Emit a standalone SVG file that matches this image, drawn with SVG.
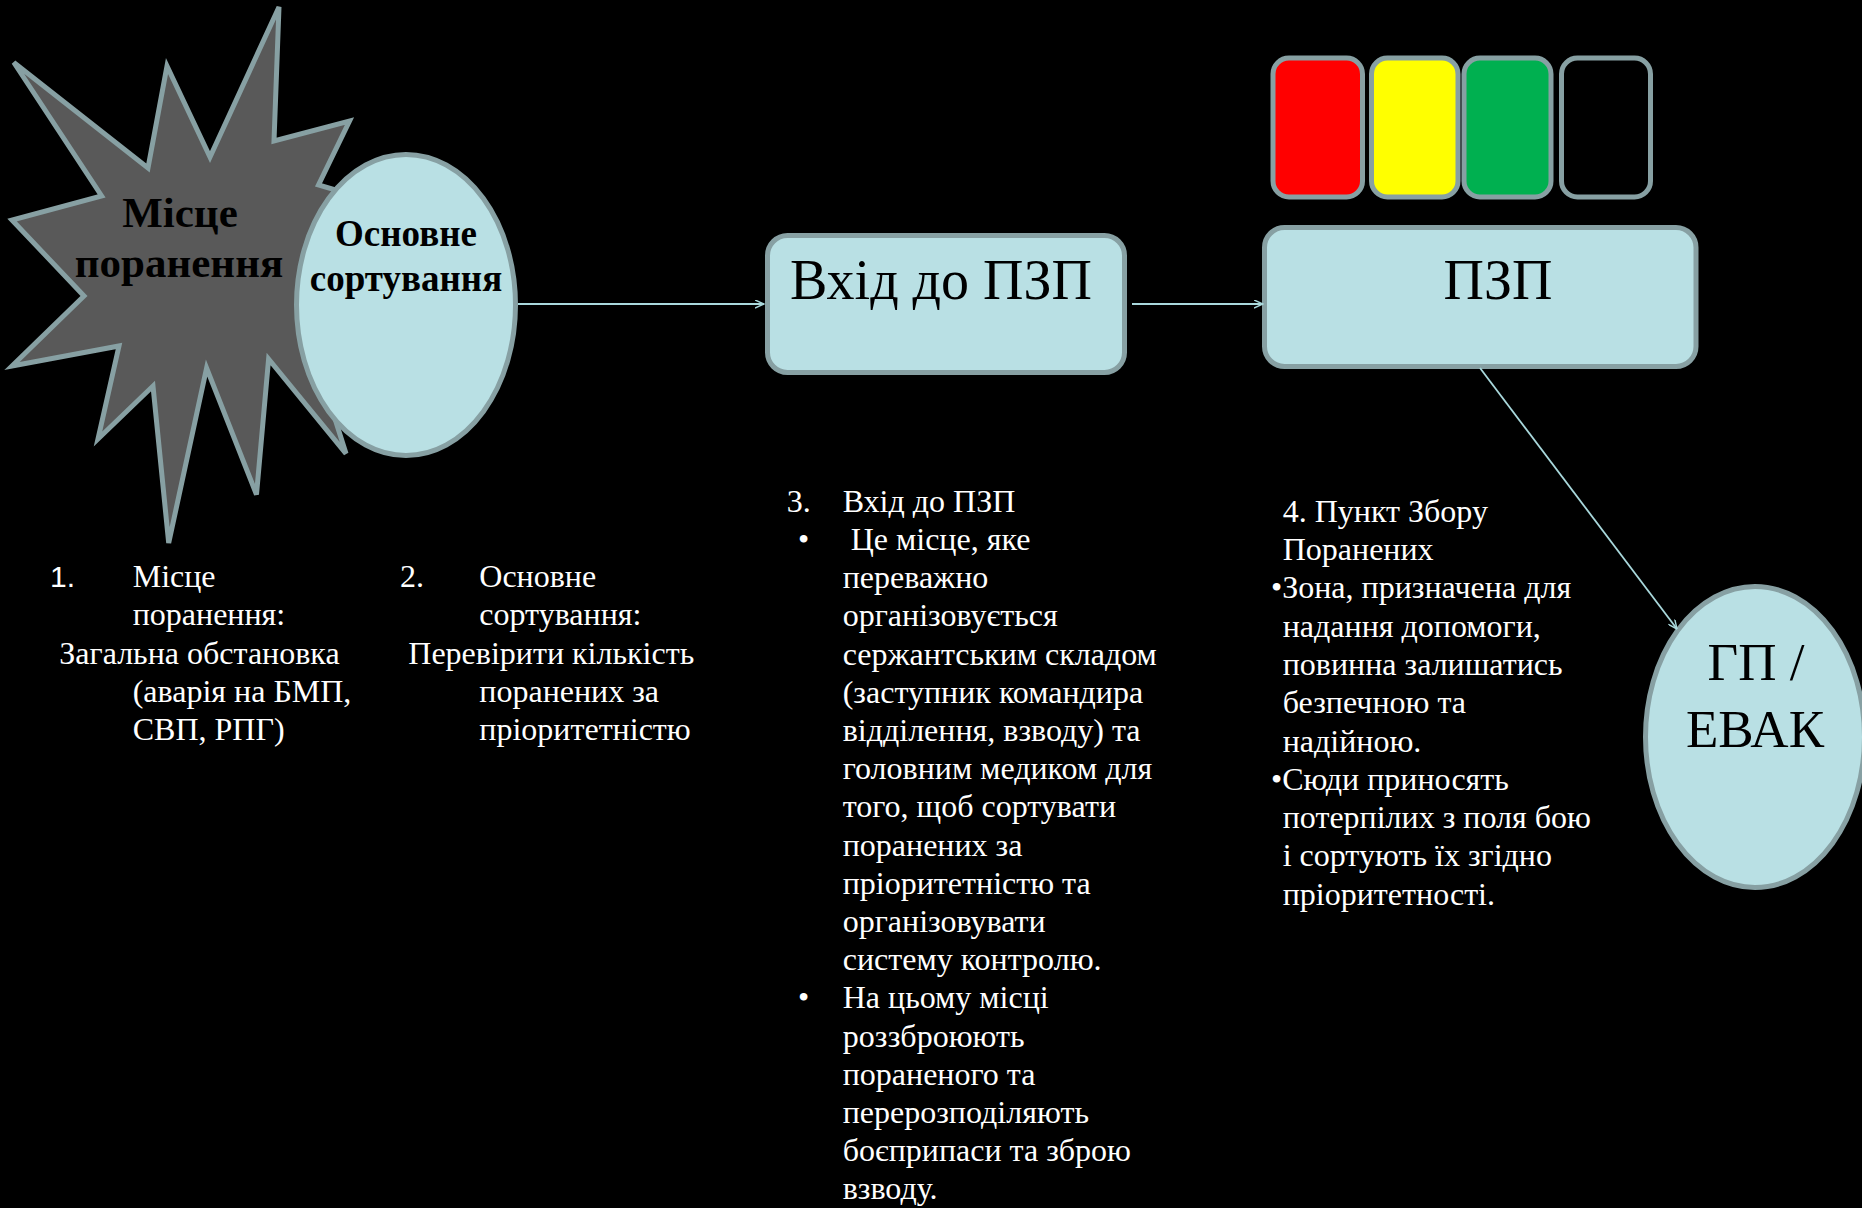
<svg xmlns="http://www.w3.org/2000/svg" width="1862" height="1208" viewBox="0 0 1862 1208">
  <style>
    .shape { stroke: #87a0a3; stroke-width: 5; }
    .lite { fill: #b9e0e4; }
    .conn { stroke: #a9d8dc; stroke-width: 1.8; fill: none; }
    .serif { font-family: "Liberation Serif", "Times New Roman", serif; }
    .body { font-family: "Liberation Serif", "Times New Roman", serif; font-size: 32px; fill: #ffffff; }
    .num { font-family: "Liberation Sans", Arial, sans-serif; font-size: 30px; fill: #ffffff; }
    .bold { font-weight: bold; fill: #000000; }
    .big { font-size: 56px; fill: #000000; }
  </style>
  <defs>
    <marker id="arr" viewBox="0 0 10 10" refX="10" refY="5" markerWidth="10" markerHeight="9" markerUnits="userSpaceOnUse" orient="auto">
      <path d="M0,0.5 L10,5 L0,9.5" fill="none" stroke="#a9d8dc" stroke-width="1.6"/>
    </marker>
  </defs>
  <rect x="0" y="0" width="1862" height="1208" fill="#000000"/>

  <g id="mistse-poranennya">
    <polygon class="shape" fill="#595959" points="279,7 274,141 349.5,121 318.5,185 430,218 310,340 346,453.6 268.6,359 256.5,494.6 206.6,368 168.7,543 153,386 98,439 119,346 12,366 84,296 12,220 101.6,196 13.8,62.5 148,168 167,66 210,157"/>
    <text class="serif bold" font-size="43" x="180" y="227" text-anchor="middle">Місце</text>
    <text class="serif bold" font-size="43" x="179" y="277" text-anchor="middle">поранення</text>
  </g>

  <g id="osnovne-sortuvannya">
    <ellipse class="shape lite" cx="406" cy="305" rx="109.5" ry="150.5"/>
    <text class="serif bold" font-size="37" x="406" y="246" text-anchor="middle">Основне</text>
    <text class="serif bold" font-size="37" x="406" y="291" text-anchor="middle">сортування</text>
  </g>

  <g id="vkhid-do-pzp">
    <rect class="shape lite" x="767.5" y="235.5" width="357" height="137" rx="20"/>
    <text class="serif big" x="941" y="299" text-anchor="middle">Вхід до ПЗП</text>
  </g>

  <g id="pzp">
    <rect class="shape lite" x="1264.5" y="227.5" width="431.5" height="139" rx="20"/>
    <text class="serif big" x="1498" y="299" text-anchor="middle">ПЗП</text>
  </g>

  <g id="triage-colors">
    <rect class="shape" fill="#ff0000" x="1273" y="58" width="89.5" height="139" rx="16"/>
    <rect class="shape" fill="#ffff00" x="1371.5" y="58" width="86.5" height="139" rx="16"/>
    <rect class="shape" fill="#00b050" x="1464" y="58" width="87" height="139" rx="16"/>
    <rect class="shape" fill="#000000" x="1561.5" y="58" width="89" height="139" rx="16"/>
  </g>

  <g id="gp-evak">
    <ellipse class="shape lite" cx="1755" cy="737" rx="109.5" ry="150.5"/>
    <text class="serif" font-size="53" fill="#000000" x="1756" y="680" text-anchor="middle">ГП /</text>
    <text class="serif" font-size="53" fill="#000000" x="1755" y="747" text-anchor="middle">ЕВАК</text>
  </g>

  <g id="connectors">
    <line class="conn" x1="518" y1="304" x2="764" y2="304" marker-end="url(#arr)"/>
    <line class="conn" x1="1132" y1="304" x2="1263" y2="304" marker-end="url(#arr)"/>
    <line class="conn" x1="1480" y1="368" x2="1677" y2="629" marker-end="url(#arr)"/>
  </g>

  <g id="text-1">
    <text class="num" x="50" y="587">1.</text>
    <text class="body" x="132.7" y="587">Місце</text>
    <text class="body" x="132.7" y="625.3">поранення:</text>
    <text class="body" x="59.3" y="663.6">Загальна обстановка</text>
    <text class="body" x="132.7" y="701.9">(аварія на БМП,</text>
    <text class="body" x="132.7" y="740.2">СВП, РПГ)</text>
  </g>

  <g id="text-2">
    <text class="body" x="400" y="587">2.</text>
    <text class="body" x="479.3" y="587">Основне</text>
    <text class="body" x="479.3" y="625.3">сортування:</text>
    <text class="body" x="408.3" y="663.6">Перевірити кількість</text>
    <text class="body" x="479.3" y="701.9">поранених за</text>
    <text class="body" x="479.3" y="740.2">пріоритетністю</text>
  </g>

  <g id="text-3">
    <text class="body" x="786.7" y="511.7">3.</text>
    <text class="body" x="842.7" y="511.7">Вхід до ПЗП</text>
    <text class="body" x="798" y="549.9">•</text>
    <text class="body" x="850.7" y="549.9">Це місце, яке</text>
    <text class="body" x="842.7" y="588.1">переважно</text>
    <text class="body" x="842.7" y="626.3">організовується</text>
    <text class="body" x="842.7" y="664.5">сержантським складом</text>
    <text class="body" x="842.7" y="702.7">(заступник командира</text>
    <text class="body" x="842.7" y="740.9">відділення, взводу) та</text>
    <text class="body" x="842.7" y="779.1">головним медиком для</text>
    <text class="body" x="842.7" y="817.3">того, щоб сортувати</text>
    <text class="body" x="842.7" y="855.5">поранених за</text>
    <text class="body" x="842.7" y="893.7">пріоритетністю та</text>
    <text class="body" x="842.7" y="931.9">організовувати</text>
    <text class="body" x="842.7" y="970.1">систему контролю.</text>
    <text class="body" x="798" y="1008.3">•</text>
    <text class="body" x="842.7" y="1008.3">На цьому місці</text>
    <text class="body" x="842.7" y="1046.5">роззброюють</text>
    <text class="body" x="842.7" y="1084.7">пораненого та</text>
    <text class="body" x="842.7" y="1122.9">перерозподіляють</text>
    <text class="body" x="842.7" y="1161.1">боєприпаси та зброю</text>
    <text class="body" x="842.7" y="1199.3">взводу.</text>
  </g>

  <g id="text-4">
    <text class="body" x="1282.7" y="521.7">4. Пункт Збору</text>
    <text class="body" x="1282.7" y="560">Поранених</text>
    <text class="body" x="1271" y="598.3">•Зона, призначена для</text>
    <text class="body" x="1282.7" y="636.6">надання допомоги,</text>
    <text class="body" x="1282.7" y="674.9">повинна залишатись</text>
    <text class="body" x="1282.7" y="713.2">безпечною та</text>
    <text class="body" x="1282.7" y="751.5">надійною.</text>
    <text class="body" x="1271" y="789.8">•Сюди приносять</text>
    <text class="body" x="1282.7" y="828.1">потерпілих з поля бою</text>
    <text class="body" x="1282.7" y="866.4">і сортують їх згідно</text>
    <text class="body" x="1282.7" y="904.7">пріоритетності.</text>
  </g>
</svg>
